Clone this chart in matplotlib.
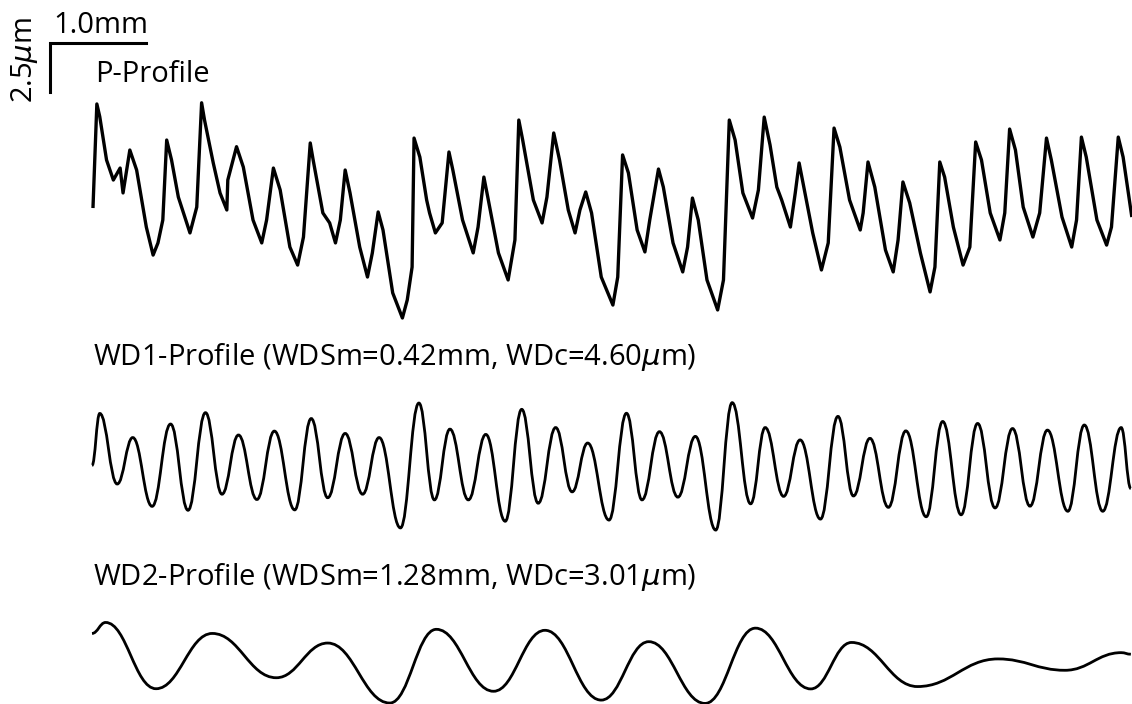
import matplotlib
matplotlib.use("Agg")
import matplotlib.pyplot as plt
from matplotlib.path import Path
from matplotlib.patches import PathPatch

plt.rcParams['font.family'] = ['Open Sans', 'DejaVu Sans']
plt.rcParams['mathtext.fontset'] = 'dejavusans'

# ---------------- data (x in mm, heights in micrometres) ----------------
p_x = [0.01, 0.05, 0.08, 0.15, 0.22, 0.29, 0.32, 0.39, 0.46, 0.56, 0.63, 0.68, 0.73, 0.77, 0.82,
       0.89, 1.01, 1.08, 1.13, 1.16, 1.25, 1.32, 1.39, 1.40, 1.49, 1.56, 1.66, 1.75, 1.80, 1.87,
       1.94, 2.04, 2.12, 2.18, 2.25, 2.28, 2.38, 2.45, 2.51, 2.56, 2.61, 2.66, 2.76, 2.84, 2.89,
       2.95, 3.00, 3.10, 3.20, 3.25, 3.30, 3.32, 3.38, 3.45, 3.48, 3.54, 3.61, 3.68, 3.72, 3.82,
       3.93, 3.98, 4.04, 4.08, 4.19, 4.29, 4.36, 4.40, 4.44, 4.55, 4.64, 4.69, 4.76, 4.82, 4.91,
       4.98, 5.03, 5.09, 5.15, 5.25, 5.37, 5.42, 5.47, 5.53, 5.62, 5.70, 5.75, 5.84, 5.89, 5.99,
       6.09, 6.14, 6.19, 6.25, 6.34, 6.45, 6.51, 6.57, 6.63, 6.71, 6.81, 6.87, 6.93, 6.99, 7.06,
       7.11, 7.20, 7.25, 7.29, 7.33, 7.43, 7.52, 7.59, 7.65, 7.71, 7.81, 7.92, 7.95, 8.00, 8.07,
       8.18, 8.26, 8.31, 8.36, 8.43, 8.54, 8.64, 8.69, 8.74, 8.79, 8.88, 8.98, 9.05, 9.11, 9.17,
       9.26, 9.36, 9.41, 9.46, 9.52, 9.60, 9.70, 9.77, 9.84, 9.89, 10.00, 10.10, 10.15, 10.20,
       10.25, 10.36, 10.46, 10.51, 10.58, 10.63, 10.72]
p_y = [-0.41, 4.90, 4.25, 2.04, 1.02, 1.63, 0.36, 2.55, 1.53, -1.38, -2.81, -2.19, -1.02, 3.06, 2.04,
       0.15, -1.68, -0.36, 4.96, 4.08, 1.89, 0.36, -0.51, 1.02, 2.72, 1.68, -1.02, -2.19, -1.02, 1.63,
       0.51, -2.40, -3.32, -1.89, 2.91, 2.04, -0.66, -1.17, -2.19, -1.02, 1.53, 0.36, -2.40, -3.93, -2.70,
       -0.61, -1.53, -4.74, -6.02, -5.10, -3.42, 3.16, 2.19, 0.00, -0.66, -1.68, -1.17, 2.45, 1.53, -1.02,
       -2.70, -1.38, 1.17, 0.15, -2.70, -4.08, -2.04, 4.08, 3.06, 0.00, -1.17, 0.15, 3.42, 2.04, -0.51,
       -1.68, -0.51, 0.41, -0.66, -3.93, -5.36, -3.93, 2.30, 1.38, -1.53, -2.65, -1.02, 1.58, 0.66, -2.19,
       -3.67, -2.40, 0.10, -1.02, -4.08, -5.61, -4.08, 4.08, 3.06, 0.36, -0.92, 0.51, 4.23, 2.81, 0.66,
       0.00, -1.38, 0.36, 1.89, 0.87, -1.68, -3.57, -2.19, 3.67, 2.70, 0.00, -1.53, -0.66, 1.94, 0.66,
       -2.55, -3.67, -2.04, 0.92, -0.15, -2.70, -4.69, -3.42, 1.94, 1.17, -1.38, -3.32, -2.40, 2.96, 2.04,
       -0.66, -2.04, -0.66, 3.62, 2.55, -0.36, -1.89, -0.66, 3.16, 2.04, -0.87, -2.40, -1.02, 3.21,
       2.19, -1.02, -2.30, -1.38, 3.21, 2.19, -0.87]

wd1_x = [0.00, 0.08, 0.26, 0.42, 0.62, 0.81, 0.99, 1.17, 1.34, 1.51, 1.70, 1.88, 2.09, 2.26, 2.43,
         2.61, 2.79, 2.96, 3.18, 3.37, 3.53, 3.69, 3.88, 4.06, 4.26, 4.43, 4.60, 4.78, 4.95, 5.11,
         5.33, 5.51, 5.67, 5.85, 6.04, 6.22, 6.43, 6.60, 6.79, 6.94, 7.13, 7.30, 7.51, 7.69, 7.85,
         8.02, 8.21, 8.39, 8.60, 8.77, 8.96, 9.13, 9.31, 9.49, 9.67, 9.85, 10.06, 10.23, 10.42,
         10.61, 10.71]
wd1_y = [-0.02, 2.63, -0.97, 1.40, -2.11, 2.09, -2.31, 2.67, -1.49, 1.53, -1.76, 1.73, -2.29, 2.37, -1.67,
         1.61, -1.49, 1.40, -3.21, 3.16, -1.78, 1.83, -1.78, 1.56, -2.87, 2.84, -1.95, 1.91, -1.37, 1.12,
         -2.81, 2.64, -1.78, 1.70, -1.64, 1.46, -3.32, 3.18, -1.98, 1.91, -1.60, 1.28, -2.76, 2.48, -1.58,
         1.36, -2.16, 1.74, -2.64, 2.22, -2.54, 2.12, -2.19, 1.86, -2.10, 1.78, -2.36, 2.04, -2.36,
         1.91, -1.20]

wd2_x = [0.00, 0.14, 0.66, 1.24, 1.90, 2.43, 3.07, 3.55, 4.14, 4.67, 5.25, 5.74, 6.32, 6.84, 7.41,
         7.83, 8.51, 9.34, 10.03, 10.61, 10.71]
wd2_y = [1.61, 2.17, -1.21, 1.61, -0.65, 1.12, -1.94, 1.82, -1.34, 1.77, -1.79, 1.19, -1.96, 1.88, -1.22,
         1.15, -1.10, 0.31, -0.27, 0.63, 0.55]

labels = ["P-Profile",
          r"WD1-Profile (WDSm=0.42mm, WDc=4.60$\mu$m)",
          r"WD2-Profile (WDSm=1.28mm, WDc=3.01$\mu$m)"]
scale_x_label = "1.0mm"
scale_y_label = r"2.5$\mu$m"

# ---------------- layout ----------------
W, H = 1132, 704
px_per_mm = 97.0
px_per_um = 49.0 / 2.5
x0_px = 92.0
base_px = [200.0, 465.0, 665.0]          # vertical centre line of each trace (pixels from top)

fig = plt.figure(figsize=(W / 100, H / 100), dpi=100)
ax = fig.add_axes([0, 0, 1, 1])
ax.set_axis_off()
ax.set_xlim(-x0_px / px_per_mm, (W - x0_px) / px_per_mm)
ax.set_ylim(-(H - base_px[0]) / px_per_um, base_px[0] / px_per_um)

offs = [-(b - base_px[0]) / px_per_um for b in base_px]

# P-profile (raw trace)
ax.plot(p_x, [v + offs[0] for v in p_y], color='black', lw=2.4,
        solid_joinstyle='round', solid_capstyle='butt')


def smooth_path(xs, ys, off, k=0.42):
    verts = [(xs[0], ys[0] + off)]
    codes = [Path.MOVETO]
    for i in range(len(xs) - 1):
        xa, ya = xs[i], ys[i] + off
        xb, yb = xs[i + 1], ys[i + 1] + off
        dx = xb - xa
        verts += [(xa + k * dx, ya), (xb - k * dx, yb), (xb, yb)]
        codes += [Path.CURVE4] * 3
    return Path(verts, codes)


for xs, ys, off in [(wd1_x, wd1_y, offs[1]), (wd2_x, wd2_y, offs[2])]:
    ax.add_patch(PathPatch(smooth_path(xs, ys, off), facecolor='none',
                           edgecolor='black', lw=2.0))

# scale bar
def px2data(xp, yp):
    return (xp - x0_px) / px_per_mm, (base_px[0] - yp) / px_per_um

xa, ya = px2data(50, 43)
xb, _ = px2data(146, 43)
_, yc = px2data(50, 92)
ax.plot([xb, xa, xa], [ya, ya, yc], color='black', lw=2.2, solid_joinstyle='miter')

fs = 21
def ftext(xp, yp, s, **kw):
    fig.text(xp / W, 1 - yp / H, s, fontsize=fs, color='black', **kw)

ftext(53, 33, scale_x_label, ha='left', va='baseline')
ftext(32, 103, scale_y_label, ha='left', va='baseline', rotation=90, rotation_mode='anchor')
ftext(95, 82, labels[0], ha='left', va='baseline')
ftext(93, 365, labels[1], ha='left', va='baseline')
ftext(93, 585, labels[2], ha='left', va='baseline')

fig.savefig("out.png", dpi=100, facecolor='white')
